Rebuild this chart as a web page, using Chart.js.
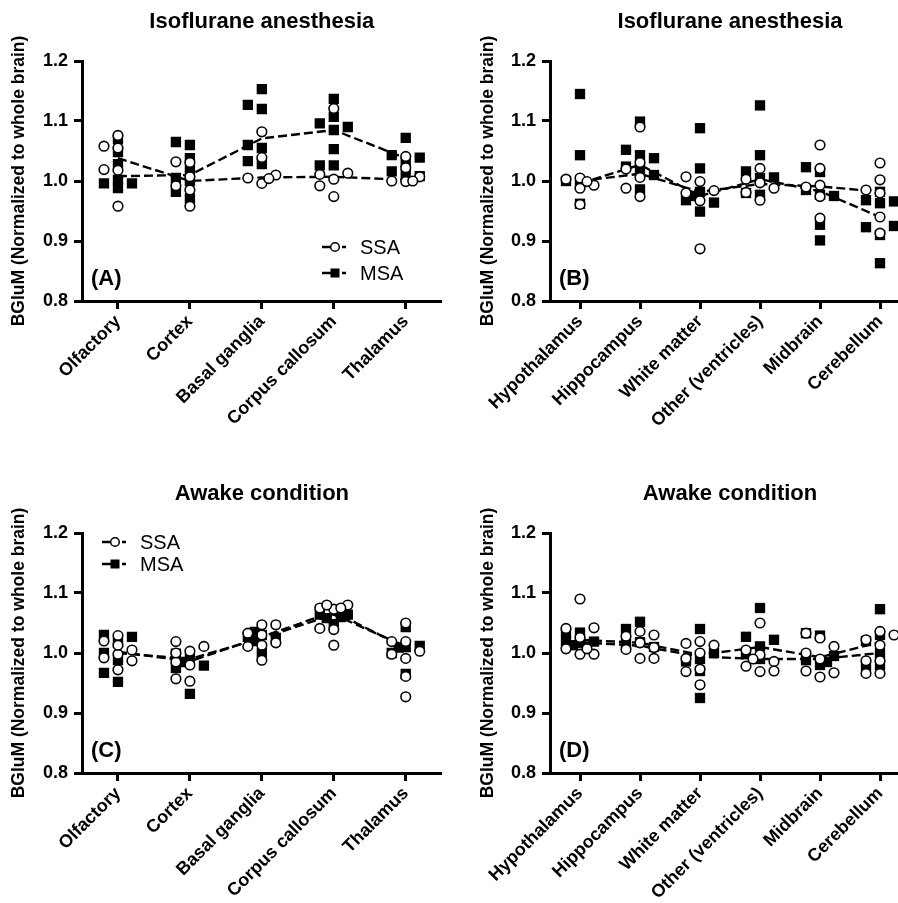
<!DOCTYPE html>
<html>
<head>
<meta charset="utf-8">
<script src="https://cdn.jsdelivr.net/npm/chart.js@4.4.1/dist/chart.umd.min.js"></script>
<style>
  html, body { margin: 0; padding: 0; background: #fff; overflow: hidden; width: 898px; height: 903px; }
  body { position: relative; }
  canvas { position: absolute; }
</style>
</head>
<body>
<canvas id="panelA" width="449" height="470" style="left:0;top:0"></canvas>
<canvas id="panelB" width="475" height="470" style="left:449px;top:0"></canvas>
<canvas id="panelC" width="449" height="433" style="left:0;top:470px"></canvas>
<canvas id="panelD" width="475" height="433" style="left:449px;top:470px"></canvas>
<script>
// categories / ticks
const forebrainRegions = ["Olfactory", "Cortex", "Basal ganglia", "Corpus callosum", "Thalamus"];
const hindbrainRegions = ["Hypothalamus", "Hippocampus", "White matter", "Other (ventricles)", "Midbrain", "Cerebellum"];
const yTicks = [0.8, 0.9, 1.0, 1.1, 1.2];
const yTitle = "BGluM (Normalized to whole brain)";

// (A) isoflurane, forebrain – one inner array per region
const ssaIsoA = [
    [1.055, 1.018, 0.958, 1.076, 1.019, 1.058],
    [1.031, 0.985, 0.958, 0.992, 1.032, 1.007],
    [1.082, 1.039, 0.996, 1.005, 1.010, 1.004],
    [1.121, 1.003, 0.974, 1.011, 1.013, 0.992],
    [1.041, 0.999, 1.000, 1.022, 1.007, 1.000],
];
const msaIsoA = [
    [1.048, 0.988, 1.028, 0.996, 1.070, 0.996, 1.002],
    [1.060, 1.038, 1.000, 0.971, 1.065, 1.005, 1.018, 0.982],
    [1.153, 1.120, 1.055, 1.028, 1.127, 1.060, 1.033],
    [1.137, 1.085, 1.053, 1.026, 1.096, 1.107, 1.090, 1.026],
    [1.072, 1.032, 1.043, 1.016, 1.039, 1.011, 1.008],
];
const ssaIsoAMid = [1.038, 1.000, 1.006, 1.007, 1.002];
const msaIsoAMid = [1.008, 1.010, 1.071, 1.085, 1.038];

// (B) isoflurane, other regions
const ssaIsoB = [
    [0.988, 0.961, 1.003, 0.993, 1.005, 0.999],
    [1.090, 1.031, 1.006, 0.974, 1.020, 0.988],
    [0.999, 0.967, 0.887, 0.980, 1.007, 0.984],
    [1.021, 0.997, 0.968, 1.003, 0.988, 0.981],
    [1.060, 1.021, 0.974, 0.938, 0.990, 0.993],
    [1.030, 0.980, 0.940, 0.913, 1.002, 0.985],
];
const msaIsoB = [
    [1.145, 1.043, 0.962, 0.993, 1.000],
    [1.099, 1.043, 1.020, 0.986, 1.024, 1.052, 1.038, 1.010],
    [1.088, 1.021, 0.982, 0.949, 0.968, 0.964, 0.975],
    [1.126, 1.043, 1.005, 0.977, 1.016, 1.006, 0.980],
    [1.015, 0.927, 0.901, 1.023, 0.977, 0.985, 0.975],
    [0.963, 0.910, 0.863, 0.968, 0.923, 0.982, 0.966, 0.925],
];
const ssaIsoBMid = [1.000, 1.012, 0.982, 0.995, 0.991, 0.982];
const msaIsoBMid = [0.996, 1.027, 0.975, 1.003, 0.983, 0.940];

// (C) awake, forebrain
const ssaAwakeC = [
    [1.029, 0.998, 0.972, 1.020, 1.005, 0.992, 1.013, 0.987],
    [1.003, 0.980, 0.953, 1.019, 0.985, 1.011, 1.000, 0.957],
    [1.047, 1.013, 0.988, 1.033, 1.017, 1.047, 1.030, 1.011],
    [1.073, 1.039, 1.013, 1.075, 1.041, 1.080, 1.080, 1.075],
    [1.050, 1.019, 0.991, 0.961, 0.927, 1.019, 1.003, 0.998],
];
const msaAwakeC = [
    [1.017, 0.988, 0.952, 1.030, 1.027, 1.000, 0.967],
    [0.991, 0.932, 0.999, 0.975, 0.979, 0.985],
    [1.030, 1.000, 1.027, 1.025, 1.020, 1.035],
    [1.048, 1.064, 1.064, 1.058, 1.060],
    [1.043, 1.010, 0.965, 1.000, 1.012, 1.009],
];
const ssaAwakeCMid = [1.002, 0.986, 1.027, 1.069, 1.008];
const msaAwakeCMid = [1.000, 0.990, 1.025, 1.064, 1.011];

// (D) awake, other regions
const ssaAwakeD = [
    [1.090, 1.026, 0.998, 1.041, 1.007, 1.042, 0.998, 1.007],
    [1.017, 0.991, 1.036, 1.028, 1.006, 1.009, 1.030, 0.991],
    [1.000, 0.973, 0.947, 1.016, 0.991, 1.019, 1.013, 0.969],
    [1.050, 0.997, 0.969, 1.005, 0.978, 0.986, 0.970, 0.990],
    [1.025, 0.990, 0.960, 1.000, 0.970, 1.033, 1.011, 0.967],
    [1.013, 0.966, 1.036, 1.022, 0.987, 0.987, 1.030, 0.966],
];
const msaAwakeD = [
    [1.034, 1.019, 1.019, 1.034, 1.017, 1.013],
    [1.052, 1.018, 1.040, 1.016, 1.010],
    [1.040, 0.970, 0.925, 0.986, 0.990, 1.000],
    [1.075, 1.011, 0.990, 1.027, 1.022, 0.998],
    [1.029, 0.980, 1.033, 0.988, 0.995, 0.985],
    [1.073, 1.030, 1.000, 0.980, 1.020, 0.978],
];
const ssaAwakeDMid = [1.018, 1.012, 0.994, 0.990, 0.990, 1.000];
const msaAwakeDMid = [1.022, 1.017, 0.997, 1.010, 0.993, 1.018];

const FONT = "'Liberation Sans', Arial, Helvetica, sans-serif";
Chart.defaults.font.family = FONT;
Chart.defaults.color = "#000";

// horizontal slots (px) tried in turn when a point would overlap another one
const SLOTS = [0, -14, 14, -7, 7];
const GAP = 10;

const panelDecor = {
    id: "panelDecor",
    afterDraw(chart, args, o) {
        const { ctx, chartArea: a } = chart;
        ctx.save();
        ctx.fillStyle = "#000";
        ctx.textBaseline = "middle";

        ctx.textAlign = "center";
        ctx.font = `bold 22px ${FONT}`;
        ctx.fillText(o.title, (a.left + a.right) / 2, a.top - 39);

        ctx.textAlign = "left";
        ctx.font = `bold 22px ${FONT}`;
        ctx.fillText(o.letter, a.left + 9, a.bottom - 22);

        if (o.legend) {
            const L = o.legend;
            ["SSA", "MSA"].forEach((txt, k) => {
                const x = a.left + L.dx;
                const y = a.top + L.dy + k * L.gap;
                ctx.strokeStyle = "#000";
                ctx.lineWidth = 2.4;
                ctx.beginPath();
                ctx.moveTo(x - 13, y);
                ctx.lineTo(x, y);
                ctx.moveTo(x + 7, y);
                ctx.lineTo(x + 11, y);
                ctx.stroke();
                if (k === 0) {
                    ctx.beginPath();
                    ctx.arc(x, y, 4.3, 0, Math.PI * 2);
                    ctx.fillStyle = "#fff";
                    ctx.fill();
                    ctx.lineWidth = 1.5;
                    ctx.stroke();
                } else {
                    ctx.fillStyle = "#000";
                    ctx.fillRect(x - 4.5, y - 4.5, 9, 9);
                }
                ctx.fillStyle = "#000";
                ctx.font = `20px ${FONT}`;
                ctx.fillText(txt, x + 25, y + 1);
            });
        }
        ctx.restore();
    },
};

function spreadPoints(chart, groups) {
    const xs = chart.scales.x;
    const ys = chart.scales.y;
    const unit = xs.getPixelForValue(1) - xs.getPixelForValue(0);
    const pts = [];
    groups.forEach((vals, i) => {
        const placed = [];
        vals.forEach((v) => {
            const py = ys.getPixelForValue(v);
            const room = (s) => Math.min(Infinity, ...placed.map((q) => Math.hypot(q.dx - s, q.py - py)));
            let dx = SLOTS.find((s) => room(s) >= GAP);
            if (dx === undefined) {
                // everything is crowded: take the slot with the most room
                dx = SLOTS.reduce((best, s) => (room(s) > room(best) ? s : best), SLOTS[0]);
            }
            placed.push({ dx, py });
            pts.push({ x: i + dx / unit, y: v });
        });
    });
    return pts;
}

function buildPanel(id, p) {
    const cats = p.cats;
    const canvas = document.getElementById(id);
    const midLine = (arr) => ({
        label: "median",
        data: arr.map((v, i) => ({ x: i, y: v })),
        showLine: true,
        borderColor: "#000",
        borderWidth: 2.4,
        borderDash: [9, 4],
        pointRadius: 0,
        fill: false,
        order: 2,
    });
    const chart = new Chart(canvas, {
        type: "scatter",
        data: {
            datasets: [
                {
                    label: "SSA",
                    data: p.ssa.flatMap((vals, i) => vals.map((v) => ({ x: i, y: v }))),
                    pointStyle: "circle",
                    pointRadius: 4.8,
                    backgroundColor: "#fff",
                    borderColor: "#000",
                    borderWidth: 1.6,
                    order: 0,
                },
                {
                    label: "MSA",
                    data: p.msa.flatMap((vals, i) => vals.map((v) => ({ x: i, y: v }))),
                    pointStyle: "rect",
                    pointRadius: 7.3,
                    backgroundColor: "#000",
                    borderColor: "#000",
                    borderWidth: 0,
                    order: 1,
                },
                midLine(p.ssaMid),
                midLine(p.msaMid),
            ],
        },
        options: {
            responsive: false,
            animation: false,
            layout: { padding: { left: p.padLeft, right: p.padRight, top: p.padTop, bottom: 0 } },
            plugins: {
                legend: { display: false },
                tooltip: { enabled: false },
                panelDecor: { title: p.title, letter: p.letter, legend: p.legend },
            },
            scales: {
                x: {
                    type: "linear",
                    min: -0.5,
                    max: cats.length - 0.5,
                    afterBuildTicks: (s) => { s.ticks = cats.map((c, i) => ({ value: i })); },
                    afterFit: (s) => { s.height = p.xHeight; },
                    grid: { drawOnChartArea: false, tickLength: 8, tickWidth: 3, tickColor: "#000" },
                    border: { color: "#000", width: 3 },
                    ticks: {
                        autoSkip: false,
                        minRotation: 45,
                        maxRotation: 45,
                        padding: 2,
                        color: "#000",
                        font: { size: 18, weight: "bold" },
                        callback: (v) => cats[v],
                    },
                },
                y: {
                    min: 0.8,
                    max: 1.2,
                    afterBuildTicks: (s) => { s.ticks = yTicks.map((v) => ({ value: v })); },
                    afterFit: (s) => { s.width = p.yWidth; },
                    grid: { drawOnChartArea: false, tickLength: 8, tickWidth: 3, tickColor: "#000" },
                    border: { color: "#000", width: 3 },
                    ticks: {
                        padding: 6,
                        color: "#000",
                        font: { size: 18, weight: "bold" },
                        callback: (v) => v.toFixed(1),
                    },
                    title: {
                        display: true,
                        text: yTitle,
                        color: "#000",
                        font: { size: 17.5, weight: "bold" },
                        padding: { top: 4, bottom: 4 },
                    },
                },
            },
        },
        plugins: [panelDecor],
    });

    // spread overlapping dots sideways, like the original dot plot
    chart.data.datasets[0].data = spreadPoints(chart, p.ssa);
    chart.data.datasets[1].data = spreadPoints(chart, p.msa);
    chart.update("none");
    return chart;
}

buildPanel("panelA", {
    cats: forebrainRegions, ssa: ssaIsoA, msa: msaIsoA, ssaMid: ssaIsoAMid, msaMid: msaIsoAMid,
    title: "Isoflurane anesthesia", letter: "(A)",
    legend: { dx: 253, dy: 186, gap: 26 },
    padLeft: 5, padRight: 6, padTop: 61, yWidth: 77, xHeight: 169,
});
buildPanel("panelB", {
    cats: hindbrainRegions, ssa: ssaIsoB, msa: msaIsoB, ssaMid: ssaIsoBMid, msaMid: msaIsoBMid,
    title: "Isoflurane anesthesia", letter: "(B)",
    padLeft: 25, padRight: 14, padTop: 61, yWidth: 76, xHeight: 169,
});
buildPanel("panelC", {
    cats: forebrainRegions, ssa: ssaAwakeC, msa: msaAwakeC, ssaMid: ssaAwakeCMid, msaMid: msaAwakeCMid,
    title: "Awake condition", letter: "(C)",
    legend: { dx: 33, dy: 9, gap: 22 },
    padLeft: 5, padRight: 6, padTop: 63, yWidth: 77, xHeight: 130,
});
buildPanel("panelD", {
    cats: hindbrainRegions, ssa: ssaAwakeD, msa: msaAwakeD, ssaMid: ssaAwakeDMid, msaMid: msaAwakeDMid,
    title: "Awake condition", letter: "(D)",
    padLeft: 25, padRight: 14, padTop: 63, yWidth: 76, xHeight: 130,
});
</script>
</body>
</html>
